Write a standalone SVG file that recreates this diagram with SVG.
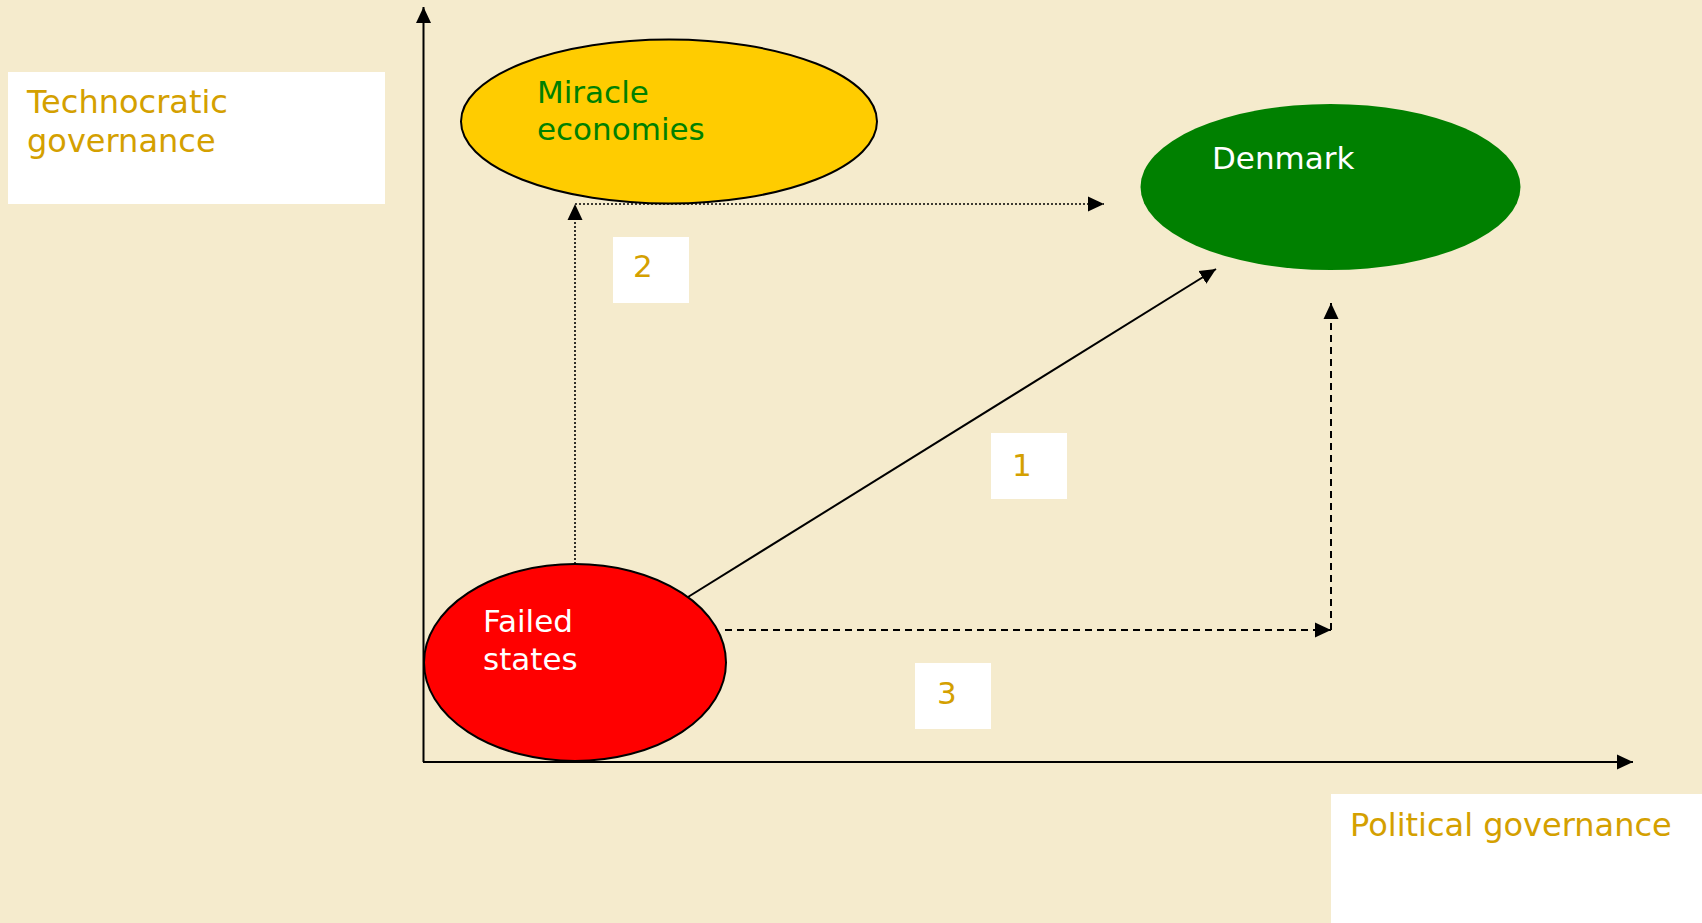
<svg xmlns="http://www.w3.org/2000/svg" width="1702" height="923" viewBox="0 0 1702 923">
<defs>
<style>
text{font-family:"DejaVu Sans","Verdana",sans-serif;font-size:31px}
.gold{fill:#D4A000}
.big{font-size:32px}
.wh{fill:#ffffff}
.gr{fill:#008000}
.box{fill:#ffffff}
.ax{stroke:#000;stroke-width:2;fill:none}
.solid{stroke:#000;stroke-width:2;fill:none}
.dot{stroke:#000;stroke-width:1.6;fill:none;stroke-dasharray:2,2}
.dash{stroke:#000;stroke-width:2;fill:none;stroke-dasharray:7,5}
</style>
<marker id="ah" markerWidth="16" markerHeight="16" viewBox="0 0 16 16" refX="16" refY="8" orient="auto" markerUnits="userSpaceOnUse">
<path d="M0,0.5 L16,8 L0,15.5 Z" fill="#000"/>
</marker>
</defs>
<rect width="1702" height="923" fill="#F5EBCD"/>

<g id="axes">
<line class="ax" x1="423.5" y1="762" x2="423.5" y2="7" marker-end="url(#ah)"/>
<line class="ax" x1="423" y1="762" x2="1633" y2="762" marker-end="url(#ah)"/>
</g>

<g id="label-technocratic">
<rect class="box" x="8" y="72" width="377" height="132"/>
<text class="gold big" x="27" y="113">Technocratic</text>
<text class="gold big" x="27" y="152">governance</text>
</g>

<g id="label-political">
<rect class="box" x="1331" y="794" width="371" height="129"/>
<text class="gold big" x="1350" y="836">Political governance</text>
</g>

<g id="connectors">
<line class="dot" x1="575" y1="564" x2="575" y2="204" marker-end="url(#ah)"/>
<line class="dot" x1="575" y1="204" x2="1104" y2="204" marker-end="url(#ah)"/>
<line class="solid" x1="688" y1="597" x2="1216" y2="269" marker-end="url(#ah)"/>
<line class="dash" x1="725" y1="630" x2="1331" y2="630" marker-end="url(#ah)"/>
<line class="dash" x1="1331" y1="630" x2="1331" y2="303" marker-end="url(#ah)"/>
</g>

<g id="node-miracle">
<ellipse cx="669" cy="121.5" rx="208" ry="82" fill="#FFCC00" stroke="#000" stroke-width="2"/>
<text class="gr" x="537" y="103">Miracle</text>
<text class="gr" x="537" y="140">economies</text>
</g>

<g id="node-denmark">
<ellipse cx="1330.5" cy="187" rx="190" ry="83" fill="#008000"/>
<text class="wh" x="1212" y="169">Denmark</text>
</g>

<g id="node-failed">
<ellipse cx="575" cy="662.5" rx="151" ry="98.5" fill="#FF0000" stroke="#000" stroke-width="2"/>
<text class="wh" x="483" y="632">Failed</text>
<text class="wh" x="483" y="670">states</text>
</g>

<g id="label-1">
<rect class="box" x="991" y="433" width="76" height="66"/>
<text class="gold" x="1012" y="476">1</text>
</g>
<g id="label-2">
<rect class="box" x="613" y="237" width="76" height="66"/>
<text class="gold" x="633" y="277">2</text>
</g>
<g id="label-3">
<rect class="box" x="915" y="663" width="76" height="66"/>
<text class="gold" x="937" y="704">3</text>
</g>
</svg>
